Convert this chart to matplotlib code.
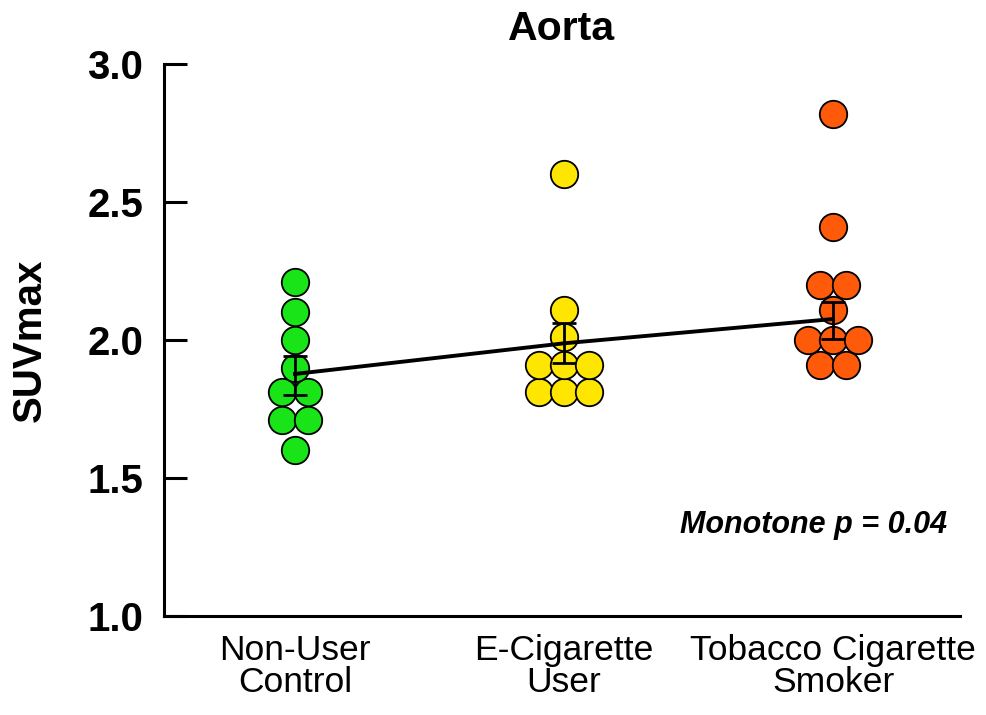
import matplotlib
matplotlib.use("Agg")
import matplotlib.pyplot as plt
import numpy as np

plt.rcParams['font.family'] = ['Liberation Sans', 'DejaVu Sans']

# Data (SUVmax per subject)
categories = ['Non-User\nControl', 'E-Cigarette\nUser', 'Tobacco Cigarette\nSmoker']
non_user = [2.21, 2.10, 2.00, 1.90, 1.81, 1.81, 1.71, 1.71, 1.60]
e_cig = [2.60, 2.11, 2.01, 1.91, 1.91, 1.91, 1.81, 1.81, 1.81]
tobacco = [2.82, 2.41, 2.20, 2.20, 2.11, 2.00, 2.00, 2.00, 1.91, 1.91]
groups = [non_user, e_cig, tobacco]

# group estimates with error bar limits (as drawn)
est = [1.877, 1.988, 2.076]
err_lo = [1.800, 1.916, 2.003]
err_hi = [1.942, 2.060, 2.139]

colors = ['#18E418', '#FFE600', '#FF5A0A']

fig = plt.figure(figsize=(9.87, 7.15), dpi=100)
ax = fig.add_axes([164 / 987, 99 / 715, 796 / 987, 552 / 715])

x = np.arange(1, len(categories) + 1)
step = 0.094  # horizontal spacing between touching dots (data units)

for xi, vals, c in zip(x, groups, colors):
    vals = np.array(vals)
    for v in np.unique(vals):
        n = np.sum(vals == v)
        offs = (np.arange(n) - (n - 1) / 2) * step
        ax.scatter(xi + offs, np.full(n, v), s=390, color=c,
                   edgecolor='black', linewidth=1.3, zorder=2)

# trend line through group estimates + error bars
ax.plot(x, est, color='black', linewidth=2.8, zorder=3)
ax.errorbar(x, est, yerr=[np.array(est) - np.array(err_lo),
                          np.array(err_hi) - np.array(est)],
            fmt='none', ecolor='black', elinewidth=2.0, capsize=8.5,
            capthick=2.0, zorder=3)

ax.set_xlim(0.513, 3.472)
ax.set_ylim(1.0, 3.0)
ax.set_yticks([1.0, 1.5, 2.0, 2.5, 3.0])
ax.set_yticklabels(['1.0', '1.5', '2.0', '2.5', '3.0'])
ax.set_xticks(x)
ax.set_xticklabels(categories, fontsize=25.5, linespacing=0.95)

for lab in ax.get_yticklabels():
    lab.set_fontweight('bold')
    lab.set_fontsize(29)

ax.tick_params(axis='y', direction='in', length=16.5, width=2.2, pad=15)
ax.tick_params(axis='x', length=0, pad=13)

for s in ['top', 'right']:
    ax.spines[s].set_visible(False)
for s in ['left', 'bottom']:
    ax.spines[s].set_linewidth(2.2)

ax.set_ylabel('SUVmax', fontsize=29, fontweight='bold', labelpad=28)
ax.set_title('Aorta', fontsize=29.5, fontweight='bold', pad=17)

ax.text(0.984, 0.165, 'Monotone p = 0.04', transform=ax.transAxes,
        ha='right', va='center', fontsize=22, fontweight='bold',
        fontstyle='italic')

plt.savefig('out.png', dpi=100)
